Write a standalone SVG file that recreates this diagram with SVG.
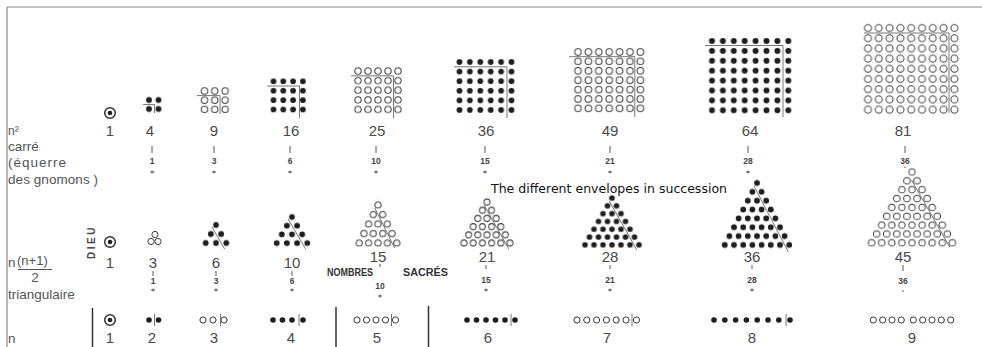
<svg xmlns="http://www.w3.org/2000/svg" width="982" height="347" viewBox="0 0 982 347">
<style>
.f{fill:#1e1e1e}
.o{fill:none;stroke:#3a3a3a;stroke-width:1}
.ln{stroke:#555;stroke-width:0.8;fill:none}
.bar{stroke:#333;stroke-width:1.5}
.mk{stroke:#444;stroke-width:0.9;fill:none}
.num{font-family:"Liberation Sans",Arial,sans-serif;font-size:15px;fill:#4a4a4a;text-anchor:middle}
.sm{font-family:"Liberation Sans",Arial,sans-serif;font-size:8.5px;font-weight:bold;fill:#444;text-anchor:middle}
.lbl{font-family:"Liberation Sans",Arial,sans-serif;font-size:13.5px;fill:#555}
.ns{font-family:"Liberation Sans",Arial,sans-serif;font-size:10.5px;font-weight:bold;fill:#333}
</style>
<defs>
<circle id="d" r="2.8" class="f"/>
<circle id="o" r="3.1" class="o"/>
<g id="tgt"><circle r="5.3" fill="none" stroke="#333" stroke-width="1.5"/><circle r="2.3" fill="#222"/></g>
<pattern id="p4" patternUnits="userSpaceOnUse" x="144.25" y="95.5" width="9.5" height="9"><circle cx="4.75" cy="4.5" r="2.9" class="f"/></pattern>
<pattern id="p9" patternUnits="userSpaceOnUse" x="199.35" y="86.4" width="10.3" height="9.2"><circle cx="5.15" cy="4.6" r="3.2" class="o"/></pattern>
<pattern id="p16" patternUnits="userSpaceOnUse" x="268.6" y="76.6" width="9.8" height="9.4"><circle cx="4.9" cy="4.7" r="2.9" class="f"/></pattern>
<pattern id="p25" patternUnits="userSpaceOnUse" x="353" y="66.2" width="10" height="9.6"><circle cx="5" cy="4.8" r="3.2" class="o"/></pattern>
<pattern id="p36" patternUnits="userSpaceOnUse" x="454.3" y="57.2" width="10.4" height="9.6"><circle cx="5.2" cy="4.8" r="2.9" class="f"/></pattern>
<pattern id="p49" patternUnits="userSpaceOnUse" x="572.8" y="47.3" width="10.4" height="9.4"><circle cx="5.2" cy="4.7" r="3.3" class="o"/></pattern>
<pattern id="p64" patternUnits="userSpaceOnUse" x="706.55" y="36.05" width="10.9" height="9.9"><circle cx="5.45" cy="4.95" r="3" class="f"/></pattern>
<pattern id="p81" patternUnits="userSpaceOnUse" x="862.6" y="22.9" width="10.8" height="10.2"><circle cx="5.4" cy="5.1" r="3.5" class="o"/></pattern>
<pattern id="t6" patternUnits="userSpaceOnUse" x="210.85" y="220.5" width="10.3" height="18"><circle cx="5.15" cy="4.5" r="2.9" class="f"/><circle cx="0" cy="13.5" r="2.9" class="f"/><circle cx="10.3" cy="13.5" r="2.9" class="f"/></pattern>
<pattern id="t10" patternUnits="userSpaceOnUse" x="286.9" y="212.65" width="10.2" height="17.4"><circle cx="5.1" cy="4.35" r="2.9" class="f"/><circle cx="0" cy="13.05" r="2.9" class="f"/><circle cx="10.2" cy="13.05" r="2.9" class="f"/></pattern>
<pattern id="t15" patternUnits="userSpaceOnUse" x="373.3" y="200.25" width="9.4" height="19"><circle cx="4.7" cy="4.75" r="3.1" class="o"/><circle cx="0" cy="14.25" r="3.1" class="o"/><circle cx="9.4" cy="14.25" r="3.1" class="o"/></pattern>
<pattern id="t21" patternUnits="userSpaceOnUse" x="482.4" y="197.9" width="9.2" height="16.4"><circle cx="4.6" cy="4.1" r="3" class="o"/><circle cx="0" cy="12.3" r="3" class="o"/><circle cx="9.2" cy="12.3" r="3" class="o"/></pattern>
<pattern id="t28" patternUnits="userSpaceOnUse" x="607.5" y="194.1" width="9" height="15.6"><circle cx="4.5" cy="3.9" r="2.8" class="f"/><circle cx="0" cy="11.7" r="2.8" class="f"/><circle cx="9" cy="11.7" r="2.8" class="f"/></pattern>
<pattern id="t36" patternUnits="userSpaceOnUse" x="752.4" y="178.575" width="9.2" height="17.7"><circle cx="4.6" cy="4.425" r="2.9" class="f"/><circle cx="0" cy="13.275" r="2.9" class="f"/><circle cx="9.2" cy="13.275" r="2.9" class="f"/></pattern>
<pattern id="t45" patternUnits="userSpaceOnUse" x="906.95" y="167.575" width="10.1" height="17.7"><circle cx="5.05" cy="4.425" r="3.3" class="o"/><circle cx="0" cy="13.275" r="3.3" class="o"/><circle cx="10.1" cy="13.275" r="3.3" class="o"/></pattern>
</defs>
<rect width="982" height="347" fill="#fff"/>
<path d="M7 7 H982 M7 7 V347" stroke="#8a8a8a" stroke-width="1.2" fill="none"/>

<g id="labels">
<text class="lbl" x="8" y="135" style="font-size:12px">n²</text>
<text class="lbl" x="8" y="151">carré</text>
<text class="lbl" x="8" y="167" textLength="58">(équerre</text>
<text class="lbl" x="8" y="184" textLength="90">des gnomons )</text>
<text class="lbl" x="8" y="267">n</text>
<text class="lbl" x="17" y="265" style="font-size:13px">(n+1)</text>
<path d="M18 269.5 H52" stroke="#555" stroke-width="1"/>
<text class="lbl" x="35" y="282" text-anchor="middle">2</text>
<text class="lbl" x="8" y="299">triangulaire</text>
<text class="lbl" x="8" y="343">n</text>
<text x="95" y="242" transform="rotate(-90 95 242)" text-anchor="middle" letter-spacing="2.5" style="font-family:'Liberation Sans',Arial,sans-serif;font-size:10px;font-weight:bold;fill:#444">DIEU</text>
<text class="ns" x="327" y="275.5" textLength="46" lengthAdjust="spacingAndGlyphs">NOMBRES</text>
<text class="ns" x="403" y="275.5" textLength="45" lengthAdjust="spacingAndGlyphs">SACRÉS</text>
<text x="491" y="193" textLength="236" lengthAdjust="spacingAndGlyphs" style="font-family:'DejaVu Sans',Verdana,sans-serif;font-size:11.5px;fill:#111">The different envelopes in succession</text>
</g>

<g id="col-1">
<use href="#tgt" x="110" y="113"/>
<text class="num" x="110" y="136">1</text>
<use href="#tgt" x="110" y="242"/>
<text class="num" x="110" y="268">1</text>
<use href="#tgt" x="110" y="320"/>
<text class="num" x="110" y="343">1</text>
</g>

<g id="col-2">
<rect x="144.25" y="95.5" width="19" height="18" fill="url(#p4)"/>
<path class="ln" d="M143 104.5 H154.5 V113"/>
<text class="num" x="150" y="136">4</text>
<text class="sm" x="152" y="164">1</text>
<use href="#o" x="155" y="234.5"/><use href="#o" x="151" y="241.5"/><use href="#o" x="158" y="241.5"/>
<text class="num" x="153" y="268">3</text>
<text class="sm" x="153" y="284">1</text>
<use href="#d" x="149" y="320"/><use href="#d" x="158.5" y="320"/>
<path class="ln" d="M154.5 314 V326"/>
<text class="num" x="152" y="343">2</text>
</g>

<g id="col-3">
<rect x="199.35" y="86.4" width="30.9" height="27.6" fill="url(#p9)"/>
<path class="ln" d="M197 95.6 H220 V114"/>
<text class="num" x="214" y="136">9</text>
<text class="sm" x="214" y="164">3</text>
<polygon points="216,216 234.03,247.5 197.97,247.5" fill="url(#t6)"/>
<path class="ln" d="M212 227 L224.6 249"/>
<text class="num" x="216" y="268">6</text>
<text class="sm" x="216" y="284">3</text>
<use href="#o" x="203" y="320"/><use href="#o" x="213" y="320"/><use href="#o" x="224" y="320"/>
<path class="ln" d="M220.5 314 V326"/>
<text class="num" x="214" y="343">3</text>
</g>

<g id="col-4">
<rect x="268.6" y="76.6" width="39.2" height="37.6" fill="url(#p16)"/>
<path class="ln" d="M267 86 H299.5 V118"/>
<text class="num" x="291" y="136">16</text>
<text class="sm" x="290" y="164">6</text>
<polygon points="292,208.3 314.95,247.45 269.05,247.45" fill="url(#t10)"/>
<path class="ln" d="M288.1 219 L305.7 249"/>
<text class="num" x="292" y="268">10</text>
<text class="sm" x="292" y="284">6</text>
<use href="#d" x="273" y="320"/><use href="#d" x="282.5" y="320"/><use href="#d" x="292" y="320"/><use href="#d" x="303" y="320"/>
<path class="ln" d="M299 314 V326"/>
<text class="num" x="291" y="343">4</text>
</g>

<g id="col-5">
<rect x="353" y="66.2" width="50" height="48" fill="url(#p25)"/>
<path class="ln" d="M351 75.8 H393.5 V118"/>
<text class="num" x="377" y="136">25</text>
<text class="sm" x="376" y="164">10</text>
<polygon points="378,195.5 403.85,247.75 352.15,247.75" fill="url(#t15)"/>
<path class="ln" d="M374.8 208 L394.6 248"/>
<text class="num" x="378" y="262">15</text>
<text class="sm" x="380" y="289">10</text>
<use href="#o" x="357" y="320"/><use href="#o" x="366.5" y="320"/><use href="#o" x="376" y="320"/><use href="#o" x="385.5" y="320"/><use href="#o" x="395.5" y="320"/>
<path class="ln" d="M391.5 314 V326"/>
<text class="num" x="377" y="343">5</text>
</g>

<g id="col-6">
<rect x="454.3" y="57.2" width="62.4" height="57.6" fill="url(#p36)"/>
<path class="ln" d="M454 66.8 H507 V118"/>
<text class="num" x="486" y="136">36</text>
<text class="sm" x="485" y="164">15</text>
<polygon points="487,193.8 516.9,247.1 457.1,247.1" fill="url(#t21)"/>
<path class="ln" d="M484.1 205 L508.8 249"/>
<text class="num" x="487" y="262">21</text>
<text class="sm" x="486" y="283">15</text>
<use href="#d" x="467" y="320"/><use href="#d" x="476.5" y="320"/><use href="#d" x="486" y="320"/><use href="#d" x="495.5" y="320"/><use href="#d" x="505" y="320"/><use href="#d" x="515" y="320"/>
<path class="ln" d="M511 314 V326"/>
<text class="num" x="488" y="343">6</text>
</g>

<g id="col-7">
<rect x="572.8" y="47.3" width="72.8" height="65.8" fill="url(#p49)"/>
<path class="ln" d="M569 56.7 H634.8 V117"/>
<text class="num" x="610" y="136">49</text>
<text class="sm" x="610" y="164">21</text>
<polygon points="612,190.2 645.75,248.7 578.25,248.7" fill="url(#t28)"/>
<path class="ln" d="M609.2 201 L636.9 250"/>
<text class="num" x="610" y="262">28</text>
<text class="sm" x="610" y="283">21</text>
<use href="#o" x="577" y="320"/><use href="#o" x="586.8" y="320"/><use href="#o" x="596.6" y="320"/><use href="#o" x="606.4" y="320"/><use href="#o" x="616.2" y="320"/><use href="#o" x="626" y="320"/><use href="#o" x="636.5" y="320"/>
<path class="ln" d="M632 314 V326"/>
<text class="num" x="607" y="343">7</text>
</g>

<g id="col-8">
<rect x="706.55" y="36.05" width="87.2" height="79.2" fill="url(#p64)"/>
<path class="ln" d="M705 45.5 H783 V117"/>
<text class="num" x="750" y="136">64</text>
<text class="sm" x="748" y="164">28</text>
<polygon points="757,174.15 796.1,249.375 717.9,249.375" fill="url(#t36)"/>
<path class="ln" d="M754 186 L788.3 252"/>
<text class="num" x="752" y="262">36</text>
<text class="sm" x="752" y="283">28</text>
<use href="#d" x="714" y="320"/><use href="#d" x="724.8" y="320"/><use href="#d" x="735.6" y="320"/><use href="#d" x="746.4" y="320"/><use href="#d" x="757.2" y="320"/><use href="#d" x="768" y="320"/><use href="#d" x="778.8" y="320"/><use href="#d" x="790" y="320"/>
<path class="ln" d="M786 314 V326"/>
<text class="num" x="752" y="343">8</text>
</g>

<g id="col-9">
<rect x="862.6" y="22.9" width="97.2" height="91.8" fill="url(#p81)"/>
<path class="ln" d="M864 33 H949 V113"/>
<text class="num" x="903" y="136">81</text>
<text class="sm" x="905" y="164">36</text>
<polygon points="912,163.15 959.975,247.225 864.025,247.225" fill="url(#t45)"/>
<path class="ln" d="M911.5 180 L949.7 247"/>
<text class="num" x="903" y="262">45</text>
<text class="sm" x="903" y="284">36</text>
<use href="#o" x="873.3" y="320"/><use href="#o" x="882.7" y="320"/><use href="#o" x="892" y="320"/><use href="#o" x="901.3" y="320"/><use href="#o" x="913.3" y="320"/><use href="#o" x="922.7" y="320"/><use href="#o" x="932" y="320"/><use href="#o" x="941.3" y="320"/><use href="#o" x="950.7" y="320"/>
<text class="num" x="912" y="343">9</text>
</g>

<g id="connectors">
<path class="mk" d="M152 146 V153 M150.5 172 H154.5 M152 170.5 V173.5
M214 146 V153 M212 172 H216 M214 170.5 V173.5
M290 146 V153 M288 172 H292 M290 170.5 V173.5
M376 146 V153 M374 172 H378 M376 170.5 V173.5
M485 146 V153 M483 172 H487 M485 170.5 V173.5
M610 146 V153 M608 172 H612 M610 170.5 V173.5
M748 146 V153 M746 172 H750 M748 170.5 V173.5
M905 146 V153 M905 166.5 V168
M153 271 V276 M151 290 H155 M153 288.5 V291.5
M216 271 V276 M214 290 H218 M216 288.5 V291.5
M292 271 V276 M290 290 H294 M292 288.5 V291.5
M380 264 V267 M378 296 H382 M380 294.5 V297.5
M486 265 V269 M484 290 H488 M486 288.5 V291.5
M610 265 V269 M608 290 H612 M610 288.5 V291.5
M752 265 V269 M750 290 H754 M752 288.5 V291.5
M903 265 V271 M903 290 V292"/>
<path class="bar" d="M92.5 308 V347 M336 307 V347 M428.5 306 V347"/>
</g>
</svg>
